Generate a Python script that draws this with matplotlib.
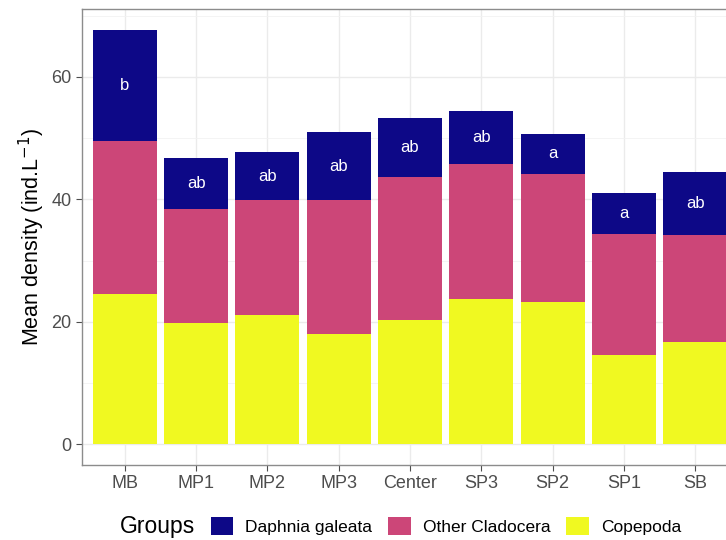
import matplotlib
matplotlib.use("Agg")
import matplotlib.pyplot as plt
import numpy as np
from matplotlib.patches import Patch

plt.rcParams["font.family"] = ["Liberation Sans", "DejaVu Sans"]

sites = ["MB", "MP1", "MP2", "MP3", "Center", "SP3", "SP2", "SP1", "SB"]
copepoda = [24.6, 19.85, 21.15, 18.05, 20.3, 23.65, 23.3, 14.5, 16.7]
other_clad = [24.95, 18.65, 18.7, 21.85, 23.4, 22.05, 20.85, 19.9, 17.5]
daphnia = [18.15, 8.2, 7.85, 11.1, 9.6, 8.8, 6.6, 6.7, 10.2]
letters = ["b", "ab", "ab", "ab", "ab", "ab", "a", "a", "ab"]

groups = ["Daphnia galeata", "Other Cladocera", "Copepoda"]
colors = ["#0D0887", "#CC4678", "#F0F921"]

fig = plt.figure(figsize=(7.26, 5.40), dpi=100)
ax = fig.add_axes([82/726, 1 - 465/540, (738 - 82)/726, (465 - 9)/540])

x = np.arange(1, len(sites) + 1)
cop = np.array(copepoda)
cla = np.array(other_clad)
dap = np.array(daphnia)

ax.bar(x, cop, width=0.9, color=colors[2], zorder=3)
ax.bar(x, cla, width=0.9, bottom=cop, color=colors[1], zorder=3)
ax.bar(x, dap, width=0.9, bottom=cop + cla, color=colors[0], zorder=3)

for xi, b, h, lab in zip(x, cop + cla, dap, letters):
    ax.text(xi, b + h / 2, lab, ha="center", va="center", color="white",
            fontsize=12, zorder=4)

ax.set_xlim(0.4, len(sites) + 0.6)
ax.set_ylim(-3.39, 71.1)
ax.set_xticks(x)
ax.set_xticklabels(sites)
ax.set_yticks([0, 20, 40, 60])
ax.set_yticks([10, 30, 50, 70], minor=True)
ax.tick_params(axis="both", which="major", colors="#4D4D4D", labelsize=13,
               length=4, width=0.8, labelcolor="#4D4D4D")
ax.tick_params(axis="y", which="minor", length=0)
ax.grid(which="major", color="#EBEBEB", linewidth=1.0, zorder=0)
ax.grid(which="minor", axis="y", color="#F2F2F2", linewidth=0.6, zorder=0)
for s in ax.spines.values():
    s.set_color("#8C8C8C")
    s.set_linewidth(1.0)
ax.spines["right"].set_visible(False)

ax.set_ylabel(r"Mean density (ind.L$^{-1}$)", fontsize=15.5, labelpad=3)

handles = [Patch(facecolor=c, edgecolor="none") for c in colors]
fig.legend(handles, groups, loc="center left", bbox_to_anchor=(195/726, 1 - 526/540),
           ncol=3, frameon=False, fontsize=12.5, handlelength=1.3, handleheight=1.3,
           handletextpad=0.7, columnspacing=0.9)
fig.text(120/726, 1 - 526/540, "Groups", fontsize=16.5, va="center", ha="left")

fig.savefig("out.png", dpi=100)
